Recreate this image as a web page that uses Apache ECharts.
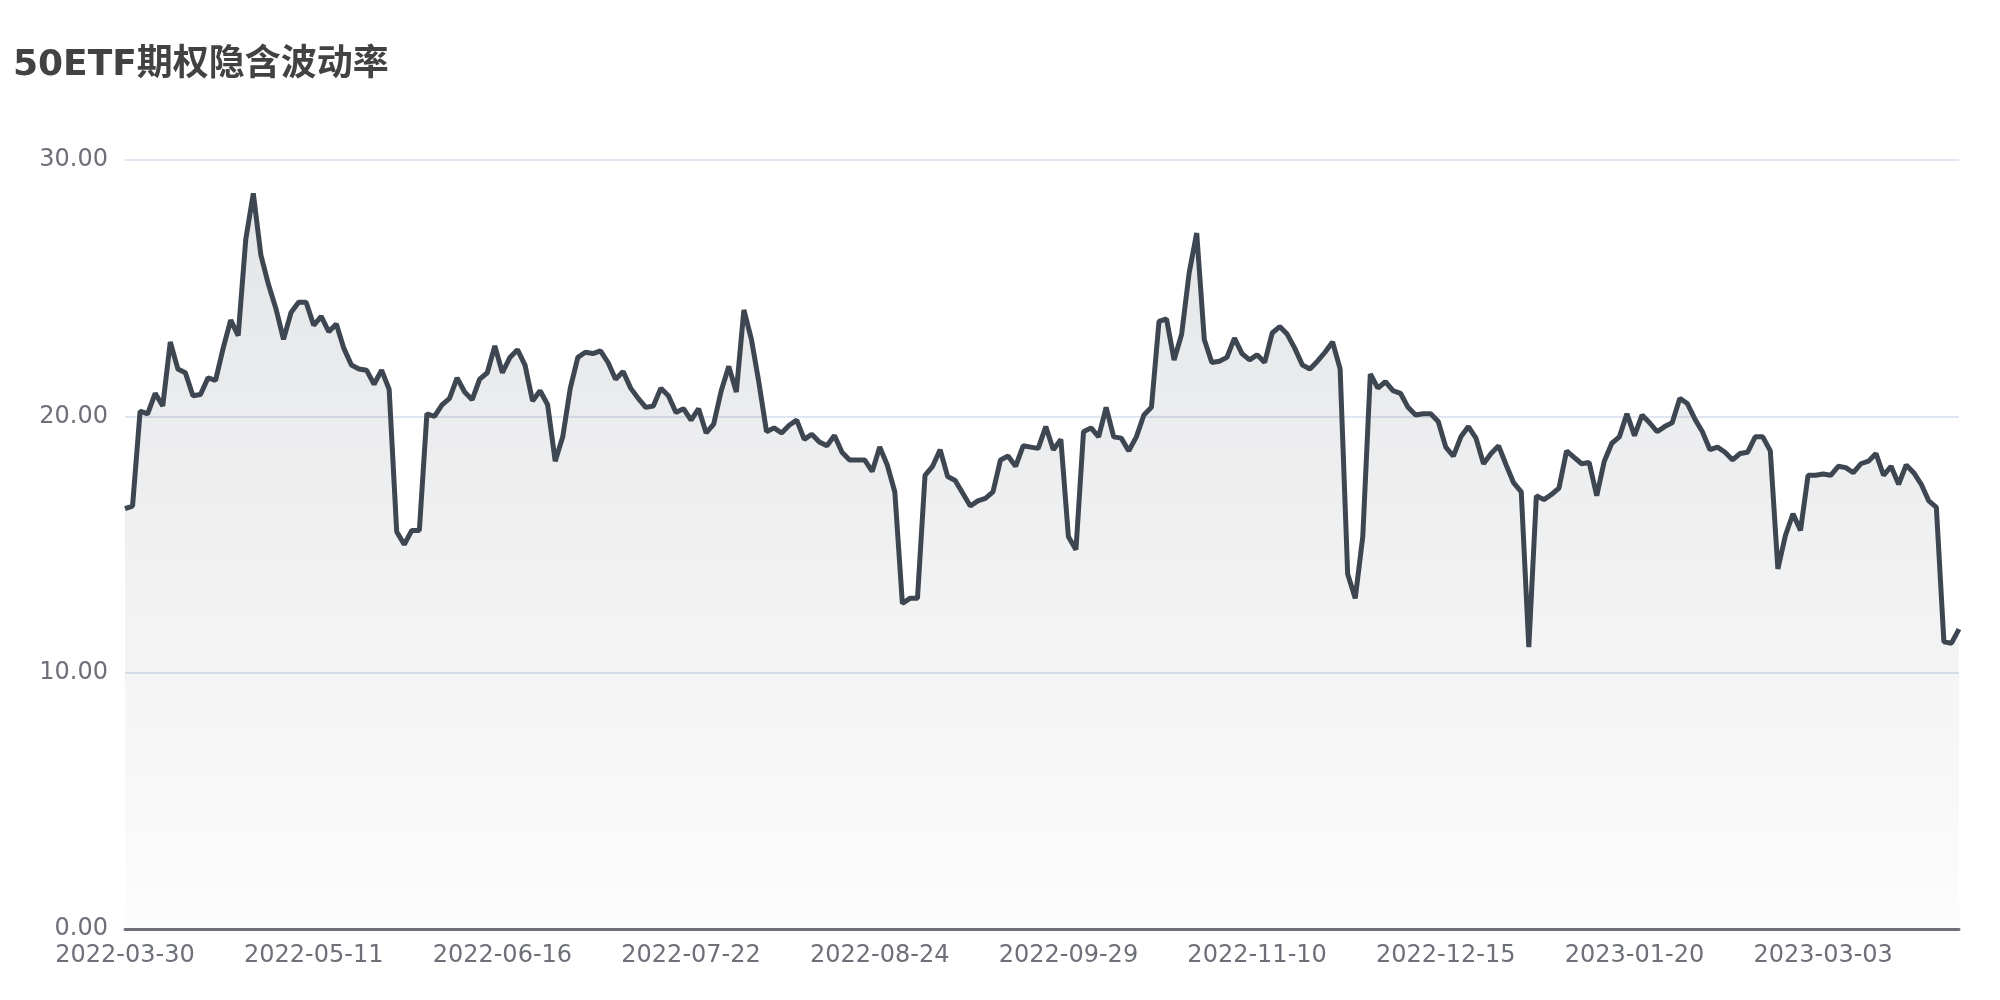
<!DOCTYPE html>
<html>
<head>
<meta charset="utf-8">
<script src="https://cdn.jsdelivr.net/npm/echarts@6/dist/echarts.min.js"></script>
<style>
html,body{margin:0;padding:0;background:#fff;}
#main{width:2000px;height:1000px;}
</style>
</head>
<body>
<div id="main"></div>
<script>
// Trading days shown on the category axis, listed per month
const monthDays = [
  ['2022-03', [30,31]],
  ['2022-04', [1,6,7,8,11,12,13,14,15,18,19,20,21,22,25,26,27,28,29]],
  ['2022-05', [5,6,9,10,11,12,13,16,17,18,19,20,23,24,25,26,27,30,31]],
  ['2022-06', [1,2,6,7,8,9,10,13,14,15,16,20,21,22,23,24,27,28,29,30]],
  ['2022-07', [1,4,5,6,7,8,11,12,13,14,15,18,19,20,21,22,25,26,27,28,29,30]],
  ['2022-08', [1,2,3,4,5,6,8,9,10,11,12,15,16,17,18,19,22,23,24,25,26,29,30,31]],
  ['2022-09', [1,2,5,6,7,8,9,13,14,15,16,19,20,21,22,23,26,27,28,29,30]],
  ['2022-10', [10,11,12,13,14,17,18,19,20,21,24,25,26,27,28,31]],
  ['2022-11', [1,2,3,4,7,8,9,10,11,14,15,16,17,18,21,22,23,24,25,28,29,30]],
  ['2022-12', [1,2,5,6,7,8,9,12,13,14,15,16,19,20,21,22,23,26,27,28,29,30]],
  ['2023-01', [3,4,5,6,9,10,11,12,13,16,17,18,19,20,30,31]],
  ['2023-02', [1,2,3,6,7,8,9,10,13,14,15,16,17,20,21,22,23,24,27,28]],
  ['2023-03', [1,2,3,6,7,8,9,10,13,14,15,16,17,20,21,22,23,24,27,28,29]]
];
const dates = [];
monthDays.forEach(function (m) {
  m[1].forEach(function (d) { dates.push(m[0] + '-' + (d < 10 ? '0' + d : '' + d)); });
});

// Implied volatility values (%)
const ivValues = [
  16.4, 16.5, 20.2, 20.1, 20.9, 20.4, 22.9, 21.85, 21.7, 20.8,
  20.85, 21.5, 21.4, 22.65, 23.75, 23.15, 26.9, 28.7, 26.3, 25.15,
  24.2, 23.0, 24.05, 24.45, 24.45, 23.55, 23.9, 23.3, 23.6, 22.65,
  22.0, 21.85, 21.8, 21.25, 21.8, 21.05, 15.5, 15.0, 15.55, 15.55,
  20.1, 20.0, 20.45, 20.7, 21.5, 20.95, 20.65, 21.45, 21.7, 22.75,
  21.7, 22.3, 22.6, 22.0, 20.6, 21.0, 20.45, 18.25, 19.2, 21.1,
  22.3, 22.5, 22.45, 22.55, 22.1, 21.45, 21.75, 21.1, 20.7, 20.35,
  20.4, 21.1, 20.8, 20.15, 20.3, 19.85, 20.3, 19.35, 19.7, 21.0,
  21.95, 20.95, 24.15, 23.0, 21.3, 19.4, 19.55, 19.35, 19.65, 19.85,
  19.1, 19.3, 19.0, 18.85, 19.25, 18.6, 18.3, 18.3, 18.3, 17.85,
  18.8, 18.1, 17.05, 12.7, 12.9, 12.9, 17.7, 18.05, 18.7, 17.65,
  17.5, 17.0, 16.5, 16.7, 16.8, 17.05, 18.3, 18.45, 18.05, 18.85,
  18.8, 18.75, 19.6, 18.7, 19.1, 15.3, 14.8, 19.4, 19.55, 19.2,
  20.35, 19.2, 19.15, 18.65, 19.2, 20.05, 20.35, 23.7, 23.8, 22.2,
  23.2, 25.6, 27.15, 23.0, 22.1, 22.15, 22.3, 23.05, 22.45, 22.2,
  22.4, 22.1, 23.25, 23.5, 23.2, 22.65, 22.0, 21.85, 22.15, 22.5,
  22.9, 21.85, 13.85, 12.9, 15.3, 21.65, 21.1, 21.35, 21.0, 20.9,
  20.35, 20.05, 20.1, 20.1, 19.8, 18.8, 18.45, 19.2, 19.6, 19.15,
  18.15, 18.55, 18.85, 18.1, 17.4, 17.05, 11.0, 16.9, 16.75, 16.95,
  17.2, 18.65, 18.4, 18.15, 18.2, 16.9, 18.25, 18.95, 19.2, 20.1,
  19.25, 20.05, 19.75, 19.4, 19.6, 19.75, 20.7, 20.5, 19.9, 19.4,
  18.7, 18.8, 18.6, 18.3, 18.55, 18.6, 19.2, 19.2, 18.65, 14.05,
  15.35, 16.2, 15.55, 17.7, 17.7, 17.75, 17.7, 18.05, 18.0, 17.8,
  18.15, 18.25, 18.55, 17.7, 18.05, 17.35, 18.1, 17.8, 17.35, 16.7,
  16.45, 11.2, 11.15, 11.7
];

const titleText = '50ETF期权隐含波动率';
const yTicks = { min: 0, max: 30, interval: 10 };

const chart = echarts.init(document.getElementById('main'), null, { renderer: 'canvas' });
chart.setOption({
  animation: false,
  backgroundColor: '#ffffff',
  title: {
    text: titleText,
    left: 8,
    top: 43,
    textStyle: {
      fontFamily: '"DejaVu Sans", "Noto Sans CJK SC", sans-serif',
      fontSize: 36,
      fontWeight: 'bold',
      color: '#424242'
    }
  },
  grid: {
    left: 125,
    right: 41,
    top: 160,
    bottom: 71,
    containLabel: false,
    outerBoundsMode: 'none'
  },
  xAxis: {
    type: 'category',
    data: dates,
    boundaryGap: false,
    axisLine: { show: true, lineStyle: { color: '#6E7079', width: 3 } },
    axisTick: { show: false },
    axisLabel: {
      interval: 24,
      margin: 15,
      fontSize: 24,
      fontFamily: '"DejaVu Sans", sans-serif',
      color: '#6E7079'
    },
    splitLine: { show: false }
  },
  yAxis: {
    type: 'value',
    min: yTicks.min,
    max: yTicks.max,
    interval: yTicks.interval,
    axisLine: { show: false },
    axisTick: { show: false },
    axisLabel: {
      margin: 17,
      fontSize: 24,
      fontFamily: '"DejaVu Sans", sans-serif',
      color: '#6E7079',
      formatter: function (v) { return v.toFixed(2); }
    },
    splitLine: { show: true, lineStyle: { color: '#E0E6F1', width: 2 } }
  },
  series: [{
    name: '隐含波动率',
    type: 'line',
    data: ivValues,
    showSymbol: false,
    symbol: 'none',
    lineStyle: { color: '#3d4651', width: 5 },
    itemStyle: { color: '#3d4651' },
    areaStyle: {
      color: new echarts.graphic.LinearGradient(0, 0, 0, 1, [
        { offset: 0, color: 'rgba(61,70,81,0.2)' },
        { offset: 1, color: 'rgba(61,70,81,0.02)' }
      ])
    }
  }]
});
</script>
</body>
</html>
